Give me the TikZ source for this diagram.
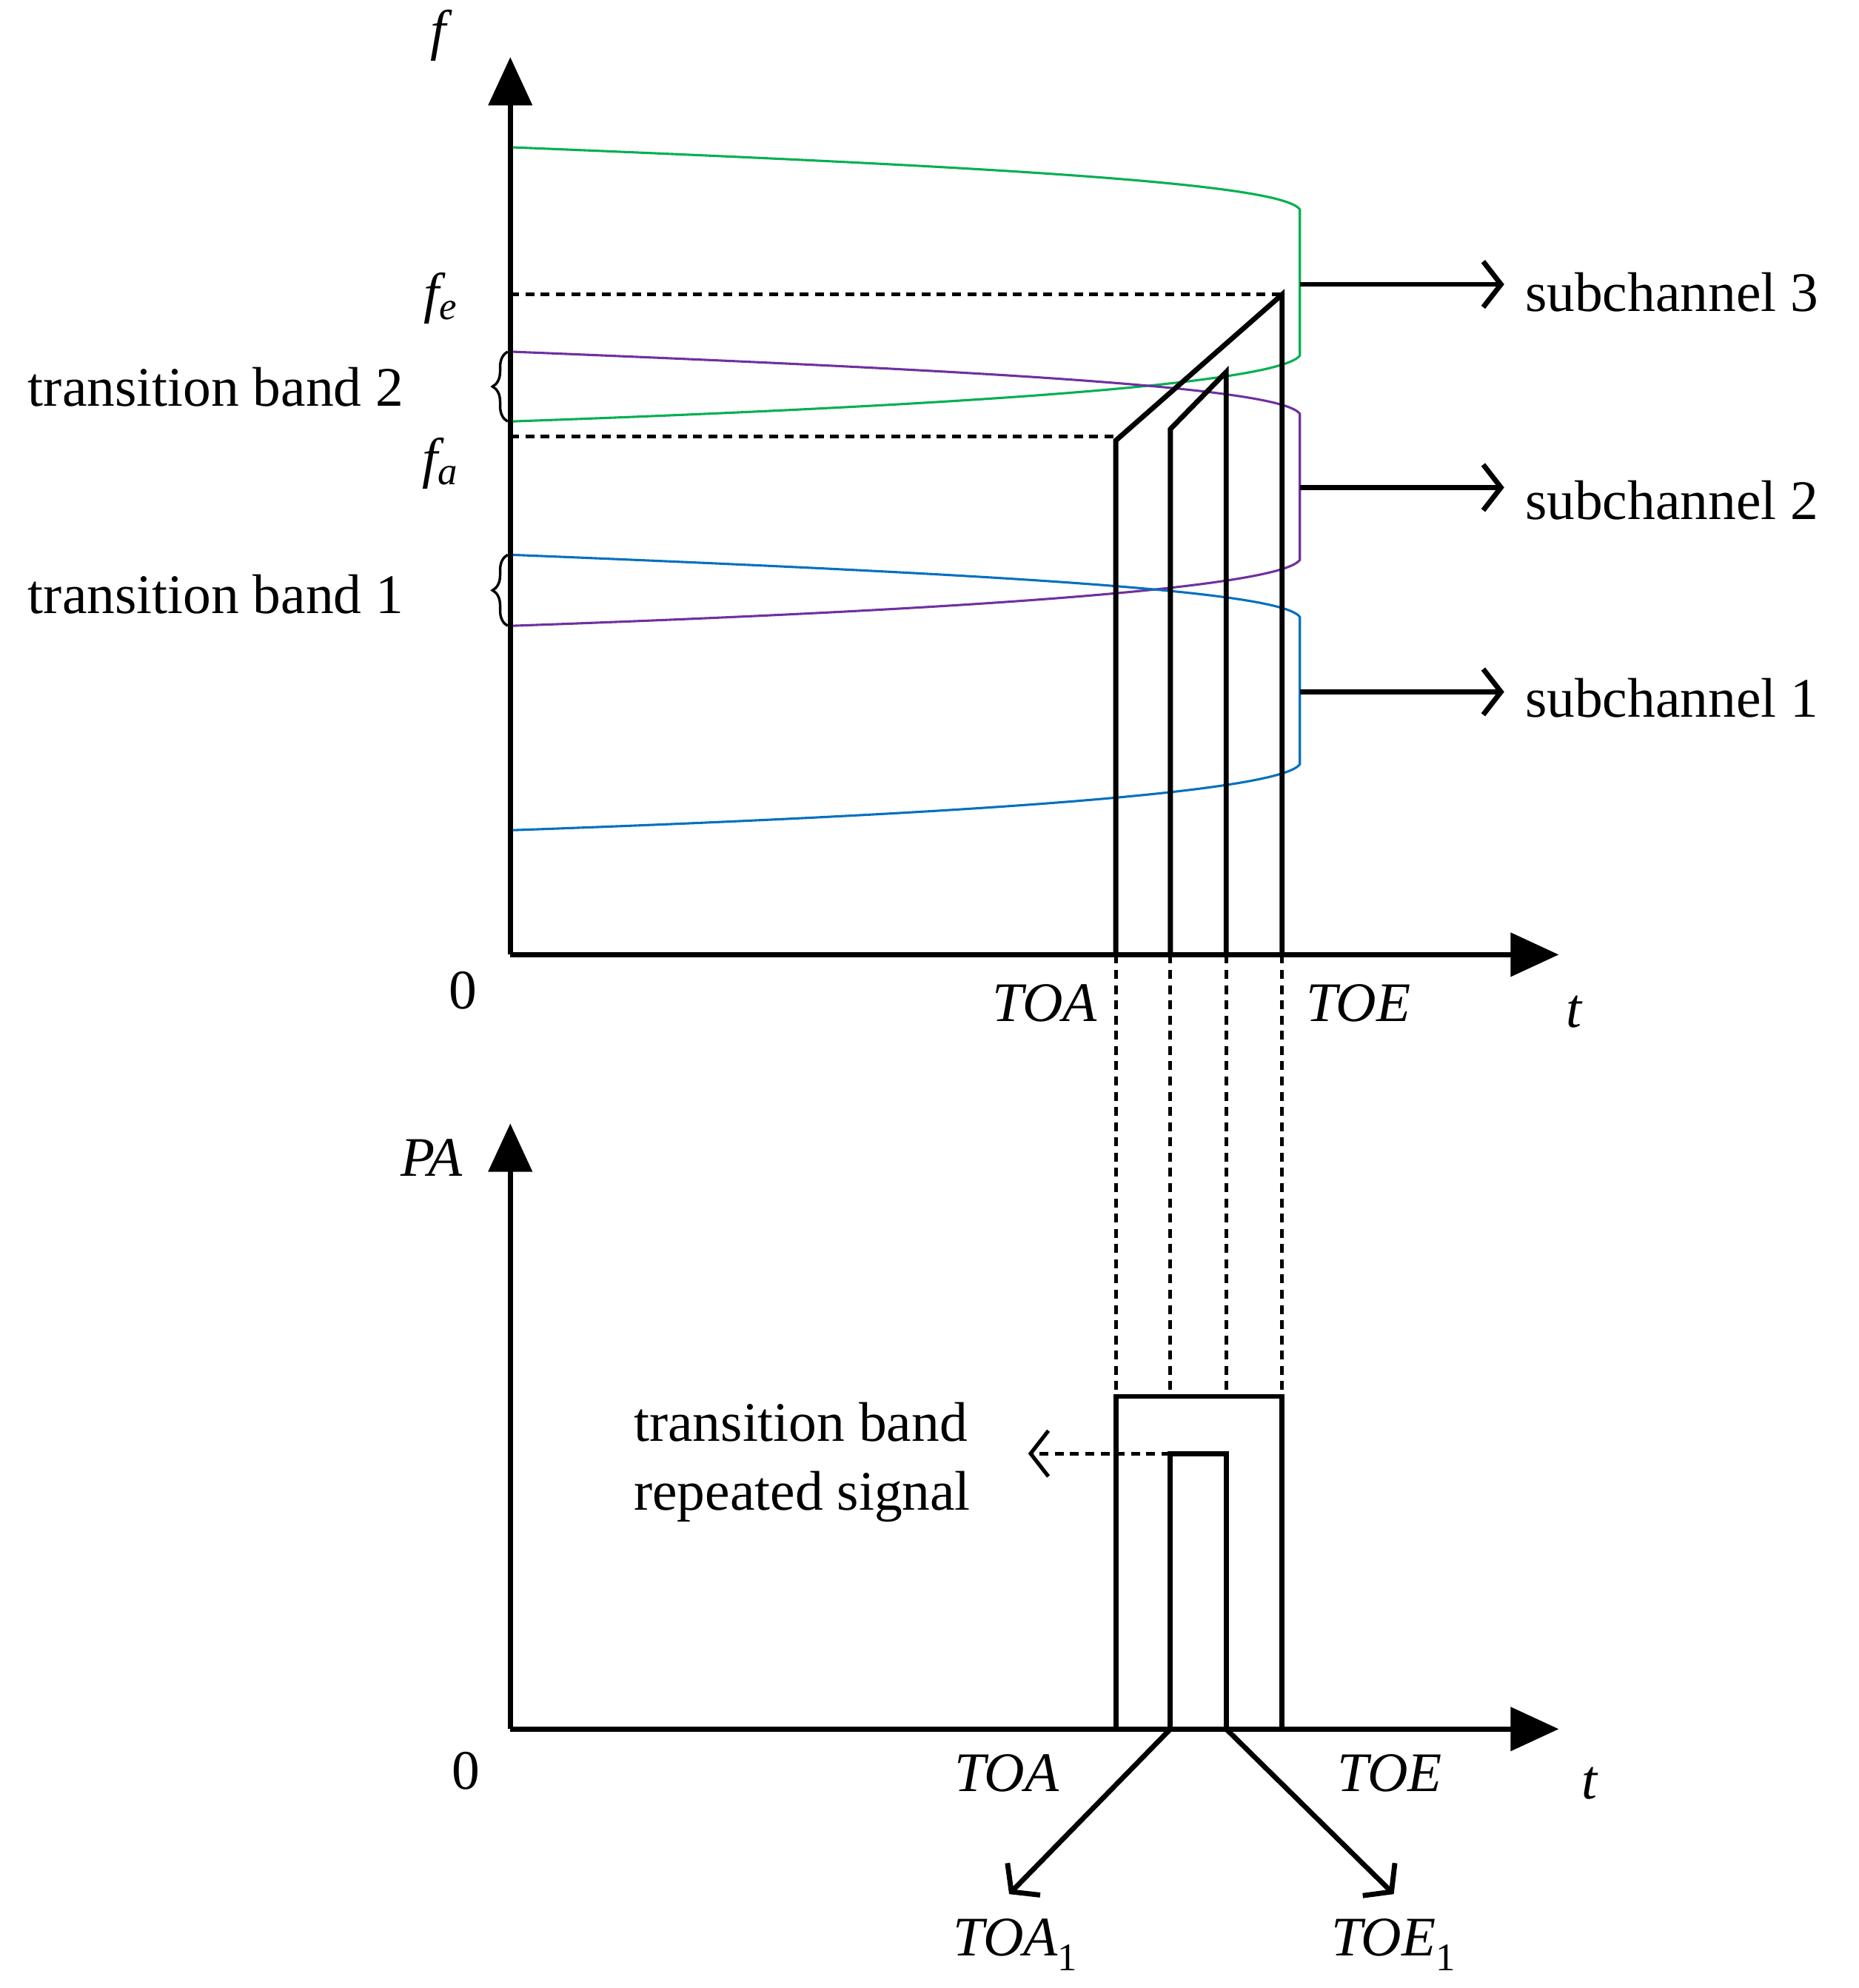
\documentclass[tikz,border=0pt]{standalone}
\usepackage{fontspec}
\setmainfont{Liberation Serif}
\usetikzlibrary{arrows.meta,decorations.pathreplacing}
\begin{document}
\begin{tikzpicture}[x=1pt,y=-1pt,
  ax/.style={line width=4pt,-{Triangle[width=34pt,length=38pt]}},
  bk/.style={line width=4pt},
  dsh/.style={line width=3pt,dash pattern=on 7pt off 5pt},
  oar/.style={line width=4pt,-{Straight Barb[length=14pt,width=36pt]}},
  lab/.style={font=\fontsize{44}{54}\selectfont},
  it/.style={font=\fontsize{44}{54}\selectfont\itshape},
  cv/.style={line width=1.8pt}]
\useasboundingbox (0,0) rectangle (1464,1566);
\definecolor{g}{RGB}{0,176,80}\definecolor{p}{RGB}{112,48,160}\definecolor{b}{RGB}{0,112,192}
\draw[cv,g] (402,116) .. controls (800,132) and (1010,145) .. (1024,165) -- (1024,280) .. controls (1010,300) and (800,318) .. (402,332);
\draw[cv,p] (402,277) .. controls (800,293) and (1010,306) .. (1024,326) -- (1024,441) .. controls (1010,461) and (800,479) .. (402,493);
\draw[cv,b] (402,437) .. controls (800,453) and (1010,466) .. (1024,486) -- (1024,602) .. controls (1010,622) and (800,640) .. (402,654);
\coordinate (o1) at (402,752); \coordinate (yt1) at (402,45); \coordinate (xt1) at (1228,752);
\coordinate (o2) at (402,1362); \coordinate (yt2) at (402,885); \coordinate (xt2) at (1228,1362);
\draw[ax] (o1) -- (yt1); \draw[ax] (o1) -- (xt1);
\draw[ax] (o2) -- (yt2); \draw[ax] (o2) -- (xt2);
\draw[bk,line join=miter] (879,752) -- (879,347) -- (1010,232) -- (1010,752);
\draw[bk,line join=miter] (922,752) -- (922,338) -- (966,293) -- (966,752);
\draw[dsh] (402,232) -- (1010,232);
\draw[dsh] (402,344) -- (879,344);
\foreach \x in {879,922,966,1010} \draw[dsh] (\x,752) -- (\x,1100);
\draw[bk,line join=miter] (879,1362) -- (879,1100) -- (1010,1100) -- (1010,1362);
\draw[bk,line join=miter] (922,1362) -- (922,1145) -- (966,1145) -- (966,1362);
\draw[dsh,-{Straight Barb[length=14pt,width=36pt]}] (922,1145) -- (810,1145);
\draw[oar] (922,1362) -- (795,1492);
\draw[oar] (966,1362) -- (1098,1492);
\draw[oar] (1024,224) -- (1185,224);
\draw[oar] (1024,384) -- (1185,384);
\draw[oar] (1024,545) -- (1185,545);
\node[lab,anchor=west] at (1198,230) {subchannel 3};
\node[lab,anchor=west] at (1198,394) {subchannel 2};
\node[lab,anchor=west] at (1198,550) {subchannel 1};
\draw[line width=2pt,decorate,decoration={brace,amplitude=12pt}] (400,332) -- (400,277);
\draw[line width=2pt,decorate,decoration={brace,amplitude=12pt}] (400,493) -- (400,437);
\node[lab] at (170,305) {transition band 2};
\node[lab] at (170,468) {transition band 1};
\node[it] at (345,28) {f};
\node[it] at (347,235) {f\textsubscript{e}};
\node[it] at (347,365) {f\textsubscript{a}};
\node[lab] at (365,780) {0};
\node[it] at (823,790) {TOA};
\node[it] at (1070,790) {TOE};
\node[it] at (1240,797) {t};
\node[it] at (340,912) {PA};
\node[lab] at (367,1395) {0};
\node[it] at (793,1397) {TOA};
\node[it] at (1095,1397) {TOE};
\node[it] at (1252,1405) {t};
\node[it] at (800,1532) {TOA\textsubscript{\upshape 1}};
\node[it] at (1098,1532) {TOE\textsubscript{\upshape 1}};
\node[lab,align=left] at (632,1152) {transition band\\repeated signal};
\end{tikzpicture}
\end{document}
